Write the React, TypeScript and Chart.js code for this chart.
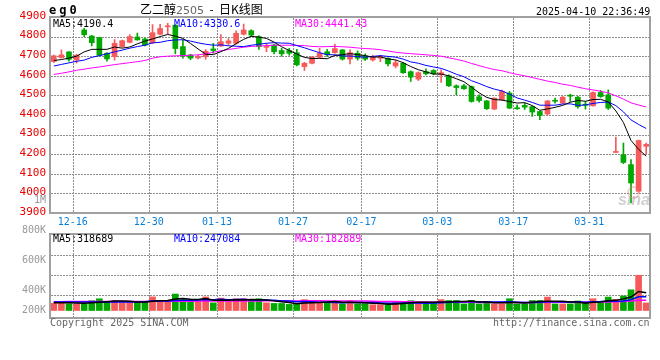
import React, { useEffect, useRef } from 'react';
import { Chart, registerables } from 'chart.js';

Chart.register(...registerables);

// ---------- DATA ----------
const dates = [
  '12-12','12-13','12-16','12-17','12-18','12-19','12-20','12-23','12-24','12-25','12-26','12-27','12-30','12-31',
  '01-02','01-03','01-06','01-07','01-08','01-09','01-10','01-13','01-14','01-15','01-16','01-17','01-20','01-21','01-22','01-23','01-24','01-27',
  '02-05','02-06','02-07','02-10','02-11','02-12','02-13','02-14','02-17','02-18','02-19','02-20','02-21','02-24','02-25','02-26','02-27','02-28',
  '03-03','03-04','03-05','03-06','03-07','03-10','03-11','03-12','03-13','03-14','03-17','03-18','03-19','03-20','03-21','03-24','03-25','03-26','03-27','03-28','03-31',
  '04-01','04-02','04-03','04-07','04-08','04-09','04-10','04-11',
];
const markedDates = ['12-16', '12-30', '01-13', '01-27', '02-17', '03-03', '03-17', '03-31'];

const opens = [
  4673, 4693, 4722, 4681, 4834, 4803, 4795, 4715, 4698, 4749,
  4771, 4798, 4788, 4769, 4812, 4850, 4858, 4749, 4706, 4691,
  4698, 4737, 4752, 4766, 4766, 4812, 4830, 4800, 4745, 4757,
  4729, 4729, 4718, 4647, 4664, 4695, 4723, 4718, 4732, 4685,
  4715, 4701, 4681, 4690, 4690, 4650, 4664, 4621, 4583, 4621,
  4627, 4605, 4600, 4549, 4549, 4545, 4493, 4472, 4430, 4478,
  4512, 4437, 4449, 4443, 4418, 4405, 4473, 4461, 4500, 4491,
  4452, 4447, 4515, 4503, 4209, 4197, 4147, 4011, 4240,
];
const highs = [
  4706, 4732, 4724, 4710, 4842, 4806, 4797, 4718, 4785, 4782,
  4810, 4818, 4792, 4861, 4862, 4868, 4861, 4782, 4710, 4706,
  4734, 4766, 4810, 4790, 4830, 4864, 4835, 4805, 4766, 4760,
  4740, 4740, 4735, 4669, 4698, 4740, 4735, 4762, 4735, 4732,
  4727, 4712, 4705, 4705, 4692, 4680, 4666, 4625, 4620, 4635,
  4632, 4630, 4605, 4554, 4556, 4548, 4503, 4475, 4488, 4527,
  4520, 4452, 4462, 4446, 4420, 4474, 4486, 4495, 4506, 4495,
  4469, 4518, 4525, 4528, 4287, 4257, 4172, 4272, 4257,
];
const lows = [
  4668, 4690, 4675, 4665, 4800, 4752, 4700, 4675, 4680, 4746,
  4768, 4782, 4752, 4764, 4808, 4815, 4712, 4690, 4682, 4686,
  4684, 4715, 4749, 4757, 4762, 4808, 4800, 4735, 4723, 4712,
  4700, 4705, 4651, 4627, 4660, 4690, 4698, 4715, 4680, 4661,
  4680, 4678, 4675, 4672, 4650, 4640, 4612, 4571, 4576, 4605,
  4605, 4566, 4545, 4503, 4530, 4465, 4466, 4428, 4428, 4476,
  4432, 4428, 4428, 4393, 4376, 4401, 4460, 4458, 4469, 4435,
  4430, 4445, 4490, 4428, 4209, 4152, 3952, 4005, 4200,
];
const closes = [
  4702, 4707, 4684, 4705, 4810, 4769, 4705, 4686, 4766, 4779,
  4800, 4783, 4757, 4820, 4841, 4855, 4739, 4701, 4690, 4698,
  4725, 4729, 4774, 4778, 4817, 4834, 4808, 4749, 4747, 4723,
  4712, 4715, 4656, 4664, 4695, 4715, 4707, 4739, 4685, 4718,
  4690, 4685, 4695, 4698, 4661, 4667, 4616, 4593, 4616, 4610,
  4610, 4616, 4549, 4540, 4534, 4469, 4474, 4432, 4486, 4520,
  4435, 4432, 4440, 4415, 4398, 4472, 4470, 4491, 4496, 4443,
  4450, 4515, 4494, 4435, 4210, 4158, 4053, 4270, 4250,
];
const ma5 = [
  4678, 4683, 4690, 4700, 4722, 4735, 4735, 4735, 4747, 4741,
  4747, 4763, 4777, 4788, 4800, 4811, 4802, 4791, 4765, 4737,
  4710, 4708, 4723, 4740, 4764, 4786, 4802, 4797, 4791, 4772,
  4748, 4729, 4711, 4694, 4688, 4689, 4687, 4704, 4708, 4713,
  4708, 4703, 4695, 4697, 4686, 4681, 4667, 4647, 4631, 4620,
  4609, 4609, 4600, 4585, 4570, 4542, 4513, 4490, 4479, 4476,
  4469, 4461, 4463, 4448, 4424, 4431, 4439, 4449, 4465, 4474,
  4470, 4479, 4480, 4467, 4421, 4362, 4270, 4225, 4190,
];
const ma10 = [
  4650, 4658, 4666, 4674, 4680, 4694, 4703, 4712, 4722, 4731,
  4741, 4749, 4756, 4768, 4771, 4779, 4783, 4784, 4777, 4768,
  4761, 4756, 4758, 4753, 4751, 4749, 4756, 4761, 4766, 4769,
  4767, 4766, 4754, 4743, 4730, 4718, 4708, 4707, 4701, 4701,
  4698, 4695, 4699, 4703, 4699, 4695, 4685, 4671, 4664, 4653,
  4645, 4638, 4624, 4608, 4595, 4575, 4561, 4545, 4532, 4523,
  4506, 4487, 4476, 4464, 4450, 4450, 4450, 4456, 4457, 4449,
  4451, 4459, 4464, 4466, 4448, 4416, 4375, 4352, 4331,
];
const ma30 = [
  4607, 4613, 4620, 4628, 4634, 4640, 4645, 4651, 4657, 4662,
  4667, 4672, 4678, 4690, 4697, 4700, 4702, 4703, 4705, 4707,
  4712, 4720, 4728, 4734, 4740, 4746, 4750, 4752, 4754, 4756,
  4756, 4756, 4755, 4754, 4750, 4748, 4749, 4750, 4748, 4746,
  4742, 4739, 4737, 4733, 4727, 4720, 4716, 4713, 4710, 4707,
  4704, 4700, 4692, 4684, 4675, 4663, 4652, 4641, 4632, 4626,
  4616, 4607, 4600, 4591, 4582, 4573, 4566, 4557, 4551, 4542,
  4534, 4528, 4521, 4513, 4498, 4481, 4462, 4451, 4441,
];
// volume, thousands of lots
const volumesK = [
  130, 160, 120, 120, 120, 175, 210, 160, 175, 137,
  137, 160, 160, 243, 175, 160, 294, 194, 175, 160,
  243, 137, 221, 160, 210, 210, 175, 210, 137, 126,
  126, 109, 109, 194, 160, 148, 140, 160, 120, 175,
  120, 120, 103, 103, 103, 160, 160, 175, 130, 118,
  145, 195, 178, 178, 118, 178, 118, 160, 118, 118,
  210, 118, 118, 178, 178, 240, 118, 118, 118, 170,
  128, 210, 128, 240, 200, 260, 370, 630, 135,
];
const volMa5K = [
  140, 140, 138, 135, 130, 139, 149, 157, 168, 171,
  164, 154, 154, 167, 175, 180, 206, 213, 200, 197,
  213, 182, 187, 184, 194, 188, 195, 193, 188, 172,
  155, 142, 121, 133, 140, 144, 150, 160, 146, 149,
  143, 139, 128, 124, 110, 118, 126, 140, 146, 149,
  146, 153, 153, 163, 163, 169, 154, 150, 138, 138,
  145, 145, 136, 148, 160, 166, 166, 166, 154, 153,
  130, 149, 151, 175, 181, 208, 240, 340, 319,
];
const volMa10K = [
  150, 150, 150, 150, 150, 150, 151, 151, 151, 151,
  151, 151, 155, 168, 173, 172, 180, 184, 184, 186,
  196, 194, 200, 192, 195, 200, 189, 190, 186, 183,
  171, 168, 157, 161, 156, 149, 146, 141, 139, 144,
  144, 145, 144, 135, 129, 130, 132, 134, 135, 129,
  132, 139, 147, 154, 156, 158, 153, 152, 151, 151,
  157, 149, 143, 143, 149, 156, 156, 151, 151, 157,
  148, 158, 159, 165, 167, 169, 194, 245, 247,
];
const volMa30K = [
  158, 158, 159, 159, 160, 160, 160, 161, 161, 162,
  162, 163, 163, 164, 164, 165, 166, 166, 167, 168,
  168, 169, 170, 170, 171, 171, 172, 172, 173, 173,
  173, 171, 171, 173, 175, 174, 172, 172, 170, 171,
  170, 169, 167, 162, 160, 160, 156, 155, 153, 152,
  149, 151, 149, 150, 147, 146, 144, 142, 142, 141,
  144, 144, 145, 144, 145, 148, 147, 146, 146, 145,
  146, 149, 150, 154, 157, 161, 168, 183, 183,
];
const priceTicks = [3900, 4000, 4100, 4200, 4300, 4400, 4500, 4600, 4700, 4800, 4900];
const volGridTicksK = [277, 634, 992];
const volTickLabels = ['800K', '600K', '400K', '200K'];

// ---------- STYLE ----------
const MONO = '"DejaVu Sans Mono", monospace';
const RED = '#f65a5a';
const GREEN = '#00a800';
const GRID = '#8c8c8c';
const FRAME = '#a0a0a0';

const candleColors = opens.map((o, i) => (closes[i] >= o ? RED : GREEN));

const markedBefore = (j: number) => {
  const prev = dates[j - 1];
  return prev !== undefined && markedDates.includes(prev) ? prev : '';
};

// dotted grid (2px on / 1px off) at the scales' tick positions, plus the panel frame
const makeFramePlugin = (gridValues: number[]) => ({
  id: 'frameAndDots',
  beforeDatasetsDraw(chart: any) {
    const { ctx, chartArea: a, scales } = chart;
    const xs = scales.x;
    const ys = scales.y;
    const half = (xs.getPixelForValue(1) - xs.getPixelForValue(0)) / 2;
    ctx.save();
    ctx.fillStyle = GRID;
    gridValues.forEach((v) => {
      const py = Math.round(ys.getPixelForValue(v));
      if (py <= a.top + 1 || py >= a.bottom - 1) return;
      for (let x = Math.ceil(a.left) + 1; x < a.right - 1; x += 3) ctx.fillRect(x, py, 2, 1);
    });
    dates.forEach((_d, j) => {
      if (!markedBefore(j)) return;
      const px = Math.round(xs.getPixelForValue(j) - half);
      for (let y = Math.ceil(a.top) + 1; y < a.bottom - 1; y += 3) ctx.fillRect(px, y, 1, 2);
    });
    ctx.restore();
  },
  afterDraw(chart: any) {
    const { ctx, chartArea: a } = chart;
    ctx.save();
    ctx.strokeStyle = FRAME;
    ctx.lineWidth = 2;
    ctx.strokeRect(Math.round(a.left), Math.round(a.top), Math.round(a.right - a.left), Math.round(a.bottom - a.top));
    ctx.restore();
  },
});

const lineDs = (data: number[], color: string, width = 1) => ({
  type: 'line' as const,
  data,
  borderColor: color,
  borderWidth: width,
  pointRadius: 0,
  tension: 0,
  fill: false,
});

function priceConfig(): any {
  return {
    type: 'bar',
    data: {
      labels: dates,
      datasets: [
        lineDs(ma5, '#000000'),
        lineDs(ma10, '#0000ff'),
        lineDs(ma30, '#ff00ff'),
        {
          type: 'bar',
          data: opens.map((o, i) => [o, closes[i]]),
          backgroundColor: candleColors,
          barThickness: 5,
          minBarLength: 1,
          grouped: false,
          borderWidth: 0,
        },
        {
          type: 'bar',
          data: lows.map((l, i) => [l, highs[i]]),
          backgroundColor: candleColors,
          barThickness: 1,
          grouped: false,
          borderWidth: 0,
        },
      ],
    },
    options: {
      responsive: false,
      animation: false,
      devicePixelRatio: 1,
      events: [],
      layout: { padding: { top: 17, right: 10, left: 0, bottom: 0 } },
      plugins: { legend: { display: false }, tooltip: { enabled: false } },
      scales: {
        x: {
          offset: true,
          grid: { display: false, drawTicks: false },
          border: { display: false },
          ticks: {
            autoSkip: false,
            maxRotation: 0,
            minRotation: 0,
            padding: 3,
            labelOffset: -3.8,
            color: '#0a80d8',
            font: { family: MONO, size: 10 },
            callback: (_v: any, i: number) => markedBefore(i),
          },
          afterFit: (s: any) => { s.height = 17; },
        },
        y: {
          min: 3900,
          max: 4900,
          afterBuildTicks: (s: any) => { s.ticks = priceTicks.map((v) => ({ value: v })); },
          grid: { display: false, drawTicks: false },
          border: { display: false },
          ticks: {
            color: '#e80000',
            font: { family: MONO, size: 11 },
            padding: 4,
            labelOffset: -1,
            autoSkip: false,
            callback: (v: any) => String(v),
          },
          afterFit: (s: any) => { s.width = 50; },
        },
      },
    },
    plugins: [makeFramePlugin(priceTicks)],
  };
}

function volumeConfig(): any {
  const yMin = -134;
  const yMax = 1367;
  return {
    type: 'bar',
    data: {
      labels: dates,
      datasets: [
        lineDs(volMa5K, '#000000', 1.5),
        lineDs(volMa10K, '#0000ff', 1.5),
        lineDs(volMa30K, '#ff00ff', 1.5),
        {
          type: 'bar',
          data: volumesK,
          backgroundColor: candleColors,
          barThickness: 6,
          grouped: false,
          borderWidth: 0,
        },
      ],
    },
    options: {
      responsive: false,
      animation: false,
      devicePixelRatio: 1,
      events: [],
      layout: { padding: { top: 14, right: 10, left: 0, bottom: 0 } },
      plugins: { legend: { display: false }, tooltip: { enabled: false } },
      scales: {
        x: {
          offset: true,
          grid: { display: false, drawTicks: false },
          border: { display: false },
          ticks: { display: false, autoSkip: false },
          afterFit: (s: any) => { s.height = 42; },
        },
        y: {
          position: 'left',
          min: yMin,
          max: yMax,
          afterBuildTicks: (s: any) => { s.ticks = [1426, 890, 354, 4].map((v) => ({ value: v })); },
          grid: { display: false, drawTicks: false },
          border: { display: false },
          ticks: {
            autoSkip: false,
            color: '#999999',
            font: { family: MONO, size: 10 },
            padding: 4,
            callback: (_v: any, i: number) => volTickLabels[i],
          },
          afterFit: (s: any) => { s.width = 50; },
        },
      },
    },
    plugins: [makeFramePlugin(volGridTicksK)],
  };
}

const txt = (left: number, top: number, text: string, color: string, extra: any = {}) => (
  <span
    style={{
      position: 'absolute',
      left,
      top,
      whiteSpace: 'pre',
      fontFamily: MONO,
      fontSize: 10,
      lineHeight: '10px',
      color,
      ...extra,
    }}
  >
    {text}
  </span>
);

export default function App() {
  const priceRef = useRef<HTMLCanvasElement>(null);
  const volRef = useRef<HTMLCanvasElement>(null);

  useEffect(() => {
    const c1 = new Chart(priceRef.current as HTMLCanvasElement, priceConfig());
    const c2 = new Chart(volRef.current as HTMLCanvasElement, volumeConfig());
    return () => {
      c1.destroy();
      c2.destroy();
    };
  }, []);

  return (
    <div
      style={{
        position: 'fixed',
        left: 0,
        top: 0,
        width: 660,
        height: 360,
        background: '#ffffff',
        overflow: 'hidden',
      }}
    >
      <canvas
        ref={priceRef}
        width={660}
        height={230}
        style={{ position: 'absolute', left: 0, top: 0, width: 660, height: 230 }}
      />
      <canvas
        ref={volRef}
        width={660}
        height={140}
        style={{ position: 'absolute', left: 0, top: 220, width: 660, height: 140 }}
      />

      {txt(49, 4, 'eg0', '#000', { fontSize: 12, fontWeight: 'bold', letterSpacing: '3px', lineHeight: '12px' })}
      <span
        style={{
          position: 'absolute',
          left: 140,
          top: 2,
          whiteSpace: 'pre',
          fontFamily: '"Noto Sans CJK SC", sans-serif',
          fontSize: 12,
          lineHeight: '14px',
          color: '#000',
        }}
      >
        乙二醇<span style={{ color: '#666', fontFamily: '"DejaVu Sans", sans-serif', fontSize: 11 }}>2505</span>
        {'  -  '}日K线图
      </span>
      {txt(536, 7, '2025-04-10 22:36:49', '#000')}

      {txt(53, 19, 'MA5:4190.4', '#000')}
      {txt(174, 19, 'MA10:4330.6', '#0000ff')}
      {txt(295, 19, 'MA30:4441.43', '#ff00ff')}

      {txt(34, 195, '1M', '#999')}

      {txt(53, 234, 'MA5:318689', '#000')}
      {txt(174, 234, 'MA10:247084', '#0000ff')}
      {txt(295, 234, 'MA30:182889', '#ff00ff')}

      {txt(50, 318, 'Copyright 2025 SINA.COM', '#666')}
      {txt(493, 318, 'http://finance.sina.com.cn', '#666')}

      <span
        style={{
          position: 'absolute',
          left: 627,
          top: 186,
          width: 9,
          height: 9,
          borderRadius: '50%',
          border: '2px solid rgba(240,120,120,0.35)',
        }}
      />
      <span
        style={{
          position: 'absolute',
          left: 618,
          top: 192,
          whiteSpace: 'pre',
          fontFamily: '"Liberation Sans", sans-serif',
          fontStyle: 'italic',
          fontWeight: 'bold',
          fontSize: 16,
          lineHeight: '16px',
          color: 'rgba(150,150,150,0.45)',
        }}
      >
        sina
      </span>
    </div>
  );
}
